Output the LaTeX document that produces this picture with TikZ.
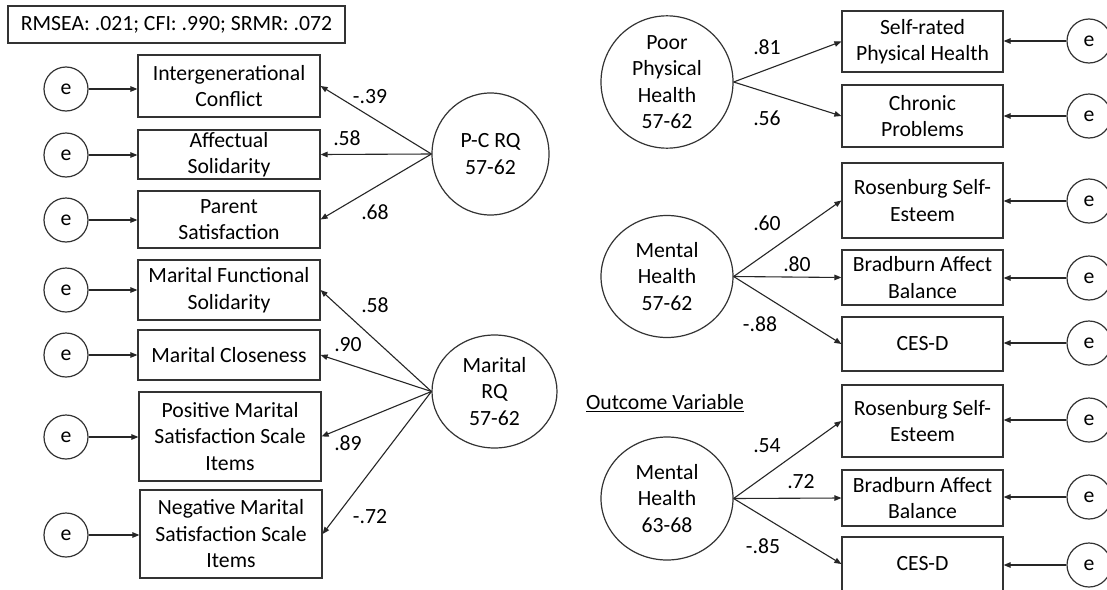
\documentclass[tikz,border=0pt]{standalone}
\usepackage{fontspec}
\setmainfont{Carlito}
\usetikzlibrary{shapes.geometric,arrows.meta}
\begin{document}
\begin{tikzpicture}[x=1pt,y=-1pt,
  every node/.style={font=\fontsize{21.7}{26.5}\selectfont, text=black},
  obsbox/.style={draw=black!80, line width=1.2pt, rectangle, inner sep=0pt, align=center},
  latent/.style={draw=black!80, line width=1.2pt, ellipse, inner sep=0pt, align=center},
  errc/.style={draw=black!80, line width=1.2pt, circle, minimum size=44pt, inner sep=0pt},
  loadline/.style={draw=black!85, line width=1.1pt, -{Triangle[length=7pt,width=5.5pt]}},
  coef/.style={inner sep=0pt}
]
\useasboundingbox (0,0) rectangle (1107,589);
\clip (0,0) rectangle (1107,589);
\fill[white] (0,0) rectangle (1107,589);

% model fit
\node[obsbox, minimum width=337pt, minimum height=37pt] (fit) at (176.5,24.5) {RMSEA: .021; CFI: .990; SRMR: .072};

% ---------- left: relationship quality indicators ----------
\node[obsbox, minimum width=182pt, minimum height=62pt] (ic)  at (229,86)    {Intergenerational\\Conflict};
\node[obsbox, minimum width=182pt, minimum height=49pt] (as)  at (229,154.5) {Affectual\\Solidarity};
\node[obsbox, minimum width=182pt, minimum height=57pt] (ps)  at (229,219.5) {Parent\\Satisfaction};
\node[obsbox, minimum width=182pt, minimum height=60pt] (mfs) at (229,290)   {Marital Functional\\Solidarity};
\node[obsbox, minimum width=182pt, minimum height=50pt] (mc)  at (229,355)   {Marital Closeness};
\node[obsbox, minimum width=182pt, minimum height=89pt] (pms) at (230,436.5) {Positive Marital\\Satisfaction Scale\\Items};
\node[obsbox, minimum width=182pt, minimum height=88pt] (nms) at (231,534)   {Negative Marital\\Satisfaction Scale\\Items};

\node[errc] (e1) at (66,89)  {e};
\node[errc] (e2) at (66,155) {e};
\node[errc] (e3) at (66,220) {e};
\node[errc] (e4) at (66,290) {e};
\node[errc] (e5) at (66,355) {e};
\node[errc] (e6) at (66,437) {e};
\node[errc] (e7) at (66,535) {e};

\foreach \e/\b in {e1/ic,e2/as,e3/ps,e4/mfs,e5/mc,e6/pms,e7/nms}
  \draw[loadline] (\e.east) -- (\e.east -| \b.west);

\node[latent, minimum width=117pt, minimum height=122pt] (pc) at (490.5,154) {P-C RQ\\57-62};
\node[latent, minimum width=125pt, minimum height=113pt] (mrq) at (494.5,391.5) {Marital\\RQ\\57-62};

\foreach \b in {ic,as,ps}
  \draw[loadline] (pc.west) -- (\b.east);
\foreach \b in {mfs,mc,pms,nms}
  \draw[loadline] (mrq.west) -- (\b.east);

\node[coef] (c1) at (370,97)  {-.39};
\node[coef] (c2) at (347,138) {.58};
\node[coef] (c3) at (375,212) {.68};
\node[coef] (c4) at (375,305) {.58};
\node[coef] (c5) at (348,345) {.90};
\node[coef] (c6) at (348,443) {.89};
\node[coef] (c7) at (370,517) {-.72};

% ---------- right: health indicators ----------
\node[obsbox, minimum width=161pt, minimum height=61pt] (srh) at (922.5,41.5)  {Self-rated\\Physical Health};
\node[obsbox, minimum width=161pt, minimum height=62pt] (chp) at (922.5,116)   {Chronic\\Problems};
\node[obsbox, minimum width=161pt, minimum height=75pt] (rsa) at (922.5,200.5) {Rosenburg Self-\\Esteem};
\node[obsbox, minimum width=161pt, minimum height=55pt] (bra) at (922.5,277.5) {Bradburn Affect\\Balance};
\node[obsbox, minimum width=161pt, minimum height=54pt] (cda) at (922.5,344)   {CES-D};
\node[obsbox, minimum width=161pt, minimum height=72pt] (rsb) at (922.5,421)   {Rosenburg Self-\\Esteem};
\node[obsbox, minimum width=161pt, minimum height=56pt] (brb) at (922.5,498)   {Bradburn Affect\\Balance};
\node[obsbox, minimum width=161pt, minimum height=54pt] (cdb) at (922.5,564)   {CES-D};

\node[errc] (r1) at (1089,41)  {e};
\node[errc] (r2) at (1089,116) {e};
\node[errc] (r3) at (1089,201) {e};
\node[errc] (r4) at (1089,278) {e};
\node[errc] (r5) at (1089,343) {e};
\node[errc] (r6) at (1089,420) {e};
\node[errc] (r7) at (1089,497) {e};
\node[errc] (r8) at (1089,565) {e};

\foreach \e/\b in {r1/srh,r2/chp,r3/rsa,r4/bra,r5/cda,r6/rsb,r7/brb,r8/cdb}
  \draw[loadline] (\e.west) -- (\e.west -| \b.east);

\node[latent, minimum width=132pt, minimum height=120pt] (pph) at (667,82)    {Poor\\Physical\\Health\\57-62};
\node[latent, minimum width=132pt, minimum height=122pt] (mha) at (667,276.5) {Mental\\Health\\57-62};
\node[latent, minimum width=132pt, minimum height=123pt] (mhb) at (667,498.5) {Mental\\Health\\63-68};

\foreach \b in {srh,chp}
  \draw[loadline] (pph.east) -- (\b.west);
\foreach \b in {rsa,bra,cda}
  \draw[loadline] (mha.east) -- (\b.west);
\foreach \b in {rsb,brb,cdb}
  \draw[loadline] (mhb.east) -- (\b.west);

\node[coef] (d1) at (767,47)  {.81};
\node[coef] (d2) at (767,118) {.56};
\node[coef] (d3) at (767,223) {.60};
\node[coef] (d4) at (797,264) {.80};
\node[coef] (d5) at (760,324) {-.88};
\node[coef] (d6) at (767,446) {.54};
\node[coef] (d7) at (801,482) {.72};
\node[coef] (d8) at (763,546) {-.85};

\node[inner sep=0pt] (outc) at (665,403) {\underline{Outcome Variable}};
\end{tikzpicture}
\end{document}
